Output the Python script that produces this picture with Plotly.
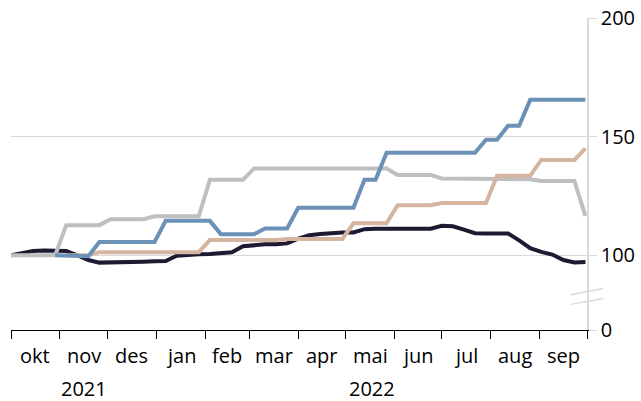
import pandas as pd
import plotly.graph_objects as go

# ---- data (weekly index, first week = 100) ----
start_date = "2021-10-01"
n_weeks = 53
dates = pd.date_range(start_date, periods=n_weeks, freq="7D")

dark = [100, 100.8, 101.8, 102.0, 102.0, 101.8, 100.0, 98.0, 96.9, 96.9,
        96.9, 96.9, 97.3, 97.5, 97.6, 99.8, 100.3, 100.4, 100.5, 100.8,
        101.3, 103.8, 104.3, 104.6, 104.6, 105.0, 107.0, 108.4, 109.0, 109.5,
        109.6, 109.6, 111.0, 111.2, 111.2, 111.2, 111.2, 111.2, 111.2, 112.4,
        112.2, 110.8, 109.3, 109.2, 109.2, 109.2, 106.3, 103.0, 101.4, 100.3,
        98.0, 97.0, 97.2]

grey = [100, 100, 100, 100, 100, 112.7, 112.7, 112.7, 112.7, 115.2,
        115.2, 115.2, 115.2, 116.4, 116.4, 116.4, 116.4, 116.4, 131.8, 131.8,
        131.8, 131.8, 136.6, 136.6, 136.6, 136.6, 136.6, 136.6, 136.6, 136.6,
        136.6, 136.6, 136.6, 136.6, 136.6, 133.8, 133.8, 133.8, 133.8, 132.4,
        132.4, 132.4, 132.4, 132.4, 132.0, 132.0, 132.0, 132.0, 131.3, 131.3,
        131.3, 131.3, 116.6]

tan = [None, None, None, None, None, 100, 100, 100, 101.3, 101.3,
       101.3, 101.3, 101.3, 101.3, 101.3, 101.3, 101.3, 101.3, 106.4, 106.4,
       106.4, 106.4, 106.4, 106.4, 106.4, 106.9, 106.9, 106.9, 106.9, 106.9,
       106.9, 113.5, 113.5, 113.5, 113.5, 121.1, 121.1, 121.1, 121.1, 122.0,
       122.0, 122.0, 122.0, 122.0, 133.5, 133.5, 133.5, 133.5, 140.2, 140.2,
       140.2, 140.2, 145.1]

blue = [None, None, None, None, 100, 100, 99.8, 99.6, 105.6, 105.6,
        105.6, 105.6, 105.6, 105.6, 114.5, 114.5, 114.5, 114.5, 114.5, 108.9,
        108.9, 108.9, 108.9, 111.3, 111.3, 111.3, 120.0, 120.0, 120.0, 120.0,
        120.0, 120.0, 131.8, 131.8, 143.2, 143.2, 143.2, 143.2, 143.2, 143.2,
        143.2, 143.2, 143.2, 148.7, 148.7, 154.6, 154.6, 165.5, 165.5, 165.5,
        165.5, 165.5, 165.5]

month_starts = ["2021-10-01", "2021-11-01", "2021-12-01", "2022-01-01", "2022-02-01",
                "2022-03-01", "2022-04-01", "2022-05-01", "2022-06-01", "2022-07-01",
                "2022-08-01", "2022-09-01", "2022-10-01"]
month_labels = ["okt", "nov", "des", "jan", "feb", "mar", "apr", "mai", "jun",
                "jul", "aug", "sep"]
year_labels = ["2021", "2022"]
year_bounds = ["2021-10-01", "2022-01-01", "2022-10-01"]

y_labels = ["0", "100", "150", "200"]
y_break_bottom = 68.5          # position where the "0" label sits (broken axis)
y_tickvals = [y_break_bottom, 100, 150, 200]

FONT = "Open Sans"
GRID = "#D9D9D9"

fig = go.Figure()
series = [("dark", dark, "#1E1A32"), ("grey", grey, "#BFBFBF"),
          ("tan", tan, "#D5B4A0"), ("blue", blue, "#6C91B7")]
for name, vals, col in series:
    fig.add_trace(go.Scatter(x=dates, y=vals, mode="lines", name=name,
                             line=dict(color=col, width=4), connectgaps=False,
                             showlegend=False))

ms = pd.to_datetime(month_starts)
annotations = []
for i, lab in enumerate(month_labels):
    mid = ms[i] + (ms[i + 1] - ms[i]) / 2
    annotations.append(dict(x=mid, y=0, xref="x", yref="paper", text=lab,
                            showarrow=False, yanchor="top", yshift=-10,
                            font=dict(family=FONT, size=20, color="black")))
yb = pd.to_datetime(year_bounds)
for i, lab in enumerate(year_labels):
    mid = yb[i] + (yb[i + 1] - yb[i]) / 2
    annotations.append(dict(x=mid, y=0, xref="x", yref="paper", text=lab,
                            showarrow=False, yanchor="top", yshift=-43,
                            font=dict(family=FONT, size=20, color="black")))

# axis-break marks on the right axis
shapes = [
    dict(type="line", xref="paper", yref="y", x0=0.972, x1=1.028, y0=79.3, y1=81.8,
         line=dict(color=GRID, width=1.5)),
    dict(type="line", xref="paper", yref="y", x0=0.972, x1=1.028, y0=83.4, y1=86.0,
         line=dict(color=GRID, width=1.5)),
]

fig.update_layout(
    width=641, height=401,
    margin=dict(l=11, r=54, t=18, b=71, autoexpand=False),
    paper_bgcolor="white", plot_bgcolor="white",
    font=dict(family=FONT, size=20, color="black"),
    annotations=annotations, shapes=shapes,
    xaxis=dict(
        type="date", range=[month_starts[0], month_starts[-1]],
        automargin=False,
        showgrid=False, zeroline=False,
        showline=True, linecolor="black", linewidth=1,
        tickmode="array", tickvals=[year_bounds[0], year_bounds[1]], ticktext=["", ""],
        ticks="outside", ticklen=22, tickcolor="black", tickwidth=1,
        minor=dict(tickmode="array", tickvals=month_starts, ticks="outside",
                   ticklen=8, tickcolor="black", tickwidth=1, showgrid=False),
    ),
    yaxis=dict(
        side="right", range=[y_break_bottom, 200], automargin=False,
        tickmode="array", tickvals=y_tickvals, ticktext=y_labels,
        showgrid=True, gridcolor=GRID, gridwidth=1, zeroline=False,
        showline=True, linecolor=GRID, linewidth=1.5,
        ticks="outside", ticklen=8, tickcolor=GRID, tickwidth=1,
        tickfont=dict(family=FONT, size=20, color="black"),
    ),
)

fig.write_html("out.html")
